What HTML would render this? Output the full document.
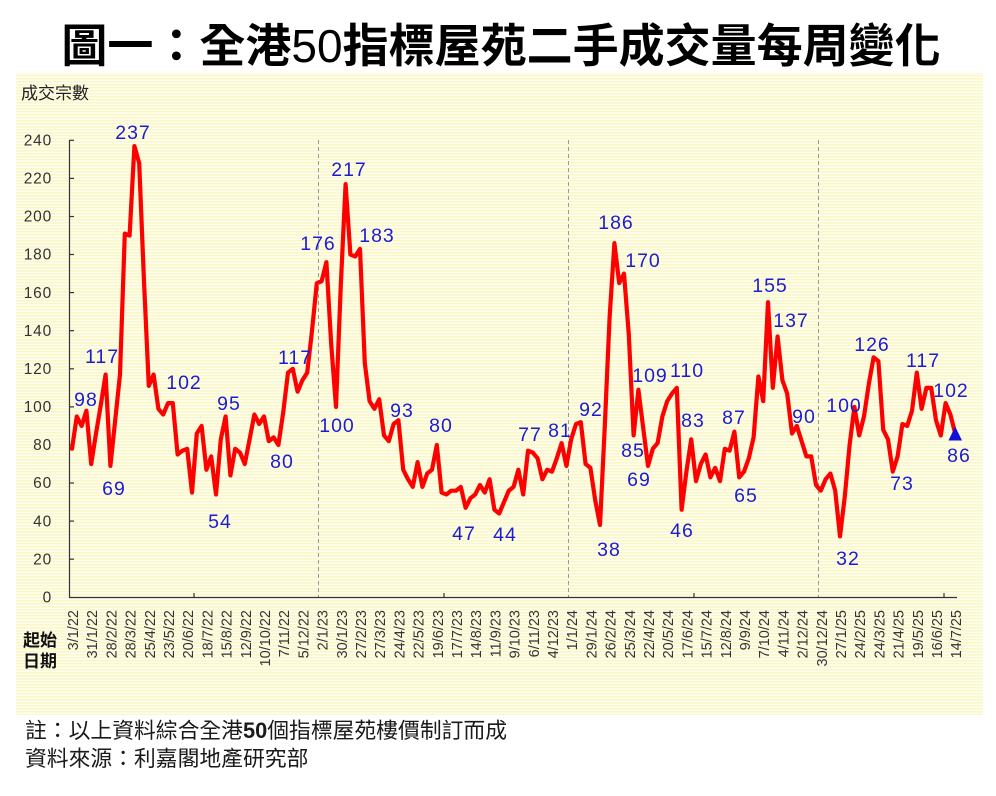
<!DOCTYPE html>
<html>
<head>
<meta charset="utf-8">
<style>
  html,body{margin:0;padding:0;background:#ffffff;}
  body{width:996px;height:796px;overflow:hidden;}
  svg{display:block;}
  .cjk{font-family:"Liberation Sans","Noto Sans CJK TC","Noto Sans CJK SC",sans-serif;}
  .lbl{font-family:"Liberation Sans",sans-serif;font-size:19.5px;fill:#1c1cd2;text-anchor:middle;letter-spacing:1px;}
  .yt{font-family:"Liberation Sans",sans-serif;font-size:15.5px;fill:#333;text-anchor:end;letter-spacing:0.8px;}
  .xt{font-family:"Liberation Sans",sans-serif;font-size:14.5px;fill:#333;text-anchor:end;dominant-baseline:central;}
</style>
</head>
<body>
<svg width="996" height="796" viewBox="0 0 996 796" xmlns="http://www.w3.org/2000/svg">
  <defs>
    <pattern id="stripes" width="6" height="3" patternUnits="userSpaceOnUse">
      <rect width="6" height="3" fill="#fefef0"/>
      <rect width="6" height="1.5" fill="#f9f7c6"/>
    </pattern>
  </defs>
  <rect x="0" y="0" width="996" height="796" fill="#ffffff"/>
  <!-- Title -->
  <text class="cjk" x="501" y="62" text-anchor="middle" font-size="46" font-weight="bold" fill="#000">圖一：全港<tspan font-weight="normal">50</tspan>指標屋苑二手成交量每周變化</text>

  <!-- chart background -->
  <rect x="16" y="73" width="967" height="642" fill="url(#stripes)"/>

  <!-- y axis title -->
  <text class="cjk" x="21" y="99" font-size="17" fill="#222">成交宗數</text>

  <!-- dashed year separators -->
  <g stroke="#9a9a9a" stroke-width="1" stroke-dasharray="4,3">
    <line x1="318.5" y1="140" x2="318.5" y2="597"/>
    <line x1="568.5" y1="140" x2="568.5" y2="597"/>
    <line x1="818.5" y1="140" x2="818.5" y2="597"/>
  </g>

  <!-- axes -->
  <g stroke="#333" stroke-width="1.2" fill="none">
    <line x1="69.5" y1="140" x2="69.5" y2="597.5"/>
    <line x1="69" y1="597.5" x2="957" y2="597.5"/>
    <line x1="69.5" y1="140.3" x2="74" y2="140.3"/>
    <line x1="69.5" y1="178.4" x2="74" y2="178.4"/>
    <line x1="69.5" y1="216.5" x2="74" y2="216.5"/>
    <line x1="69.5" y1="254.5" x2="74" y2="254.5"/>
    <line x1="69.5" y1="292.6" x2="74" y2="292.6"/>
    <line x1="69.5" y1="330.7" x2="74" y2="330.7"/>
    <line x1="69.5" y1="368.8" x2="74" y2="368.8"/>
    <line x1="69.5" y1="406.9" x2="74" y2="406.9"/>
    <line x1="69.5" y1="445.0" x2="74" y2="445.0"/>
    <line x1="69.5" y1="483.0" x2="74" y2="483.0"/>
    <line x1="69.5" y1="521.1" x2="74" y2="521.1"/>
    <line x1="69.5" y1="559.2" x2="74" y2="559.2"/>
    <line x1="194" y1="597" x2="194" y2="593"/>
    <line x1="444" y1="597" x2="444" y2="593"/>
    <line x1="694" y1="597" x2="694" y2="593"/>
    <line x1="944" y1="597" x2="944" y2="593"/>
  </g>

  <!-- y tick labels -->
  <g class="yt">
    <text x="52" y="145.5">240</text>
    <text x="52" y="183.6">220</text>
    <text x="52" y="221.7">200</text>
    <text x="52" y="259.7">180</text>
    <text x="52" y="297.8">160</text>
    <text x="52" y="335.9">140</text>
    <text x="52" y="374.0">120</text>
    <text x="52" y="412.1">100</text>
    <text x="52" y="450.2">80</text>
    <text x="52" y="488.2">60</text>
    <text x="52" y="526.3">40</text>
    <text x="52" y="564.4">20</text>
    <text x="52" y="602.5">0</text>
  </g>

  <!-- x tick labels -->
  <g class="xt">
    <text transform="translate(74,610) rotate(-90)">3/1/22</text>
    <text transform="translate(93.2,610) rotate(-90)">31/1/22</text>
    <text transform="translate(112.4,610) rotate(-90)">28/2/22</text>
    <text transform="translate(131.6,610) rotate(-90)">28/3/22</text>
    <text transform="translate(150.8,610) rotate(-90)">25/4/22</text>
    <text transform="translate(170,610) rotate(-90)">23/5/22</text>
    <text transform="translate(189.2,610) rotate(-90)">20/6/22</text>
    <text transform="translate(208.4,610) rotate(-90)">18/7/22</text>
    <text transform="translate(227.6,610) rotate(-90)">15/8/22</text>
    <text transform="translate(246.8,610) rotate(-90)">12/9/22</text>
    <text transform="translate(266,610) rotate(-90)">10/10/22</text>
    <text transform="translate(285.2,610) rotate(-90)">7/11/22</text>
    <text transform="translate(304.4,610) rotate(-90)">5/12/22</text>
    <text transform="translate(323.6,610) rotate(-90)">2/1/23</text>
    <text transform="translate(342.8,610) rotate(-90)">30/1/23</text>
    <text transform="translate(362,610) rotate(-90)">27/2/23</text>
    <text transform="translate(381.2,610) rotate(-90)">27/3/23</text>
    <text transform="translate(400.4,610) rotate(-90)">24/4/23</text>
    <text transform="translate(419.6,610) rotate(-90)">22/5/23</text>
    <text transform="translate(438.8,610) rotate(-90)">19/6/23</text>
    <text transform="translate(458,610) rotate(-90)">17/7/23</text>
    <text transform="translate(477.2,610) rotate(-90)">14/8/23</text>
    <text transform="translate(496.4,610) rotate(-90)">11/9/23</text>
    <text transform="translate(515.6,610) rotate(-90)">9/10/23</text>
    <text transform="translate(534.8,610) rotate(-90)">6/11/23</text>
    <text transform="translate(554,610) rotate(-90)">4/12/23</text>
    <text transform="translate(573.2,610) rotate(-90)">1/1/24</text>
    <text transform="translate(592.4,610) rotate(-90)">29/1/24</text>
    <text transform="translate(611.6,610) rotate(-90)">26/2/24</text>
    <text transform="translate(630.8,610) rotate(-90)">25/3/24</text>
    <text transform="translate(650,610) rotate(-90)">22/4/24</text>
    <text transform="translate(669.2,610) rotate(-90)">20/5/24</text>
    <text transform="translate(688.4,610) rotate(-90)">17/6/24</text>
    <text transform="translate(707.6,610) rotate(-90)">15/7/24</text>
    <text transform="translate(726.8,610) rotate(-90)">12/8/24</text>
    <text transform="translate(746,610) rotate(-90)">9/9/24</text>
    <text transform="translate(765.2,610) rotate(-90)">7/10/24</text>
    <text transform="translate(784.4,610) rotate(-90)">4/11/24</text>
    <text transform="translate(803.6,610) rotate(-90)">2/12/24</text>
    <text transform="translate(822.8,610) rotate(-90)">30/12/24</text>
    <text transform="translate(842,610) rotate(-90)">27/1/25</text>
    <text transform="translate(861.2,610) rotate(-90)">24/2/25</text>
    <text transform="translate(880.4,610) rotate(-90)">24/3/25</text>
    <text transform="translate(899.6,610) rotate(-90)">21/4/25</text>
    <text transform="translate(918.8,610) rotate(-90)">19/5/25</text>
    <text transform="translate(938,610) rotate(-90)">16/6/25</text>
    <text transform="translate(957.2,610) rotate(-90)">14/7/25</text>
  </g>

  <!-- x axis title -->
  <text class="cjk" x="23" y="646" font-size="17" font-weight="bold" fill="#111">起始</text>
  <text class="cjk" x="23" y="667" font-size="17" font-weight="bold" fill="#111">日期</text>

  <!-- data line -->
  <g transform="translate(72,597.3) scale(4.8,-1.904)">
    <polyline fill="none" stroke="#ff0000" stroke-width="4.2" stroke-linejoin="round" stroke-linecap="round" vector-effect="non-scaling-stroke"
      points="0,78 1,95 2,90 3,98 4,70 5,86 6,101 7,117 8,69 9,93 10,117 11,191 12,190 13,237 14,228 15,166 16,111 17,117 18,99 19,96 20,102 21,102 22,75 23,77 24,78 25,55 26,86 27,90 28,67 29,74 30,54 31,83 32,95 33,64 34,78 35,76 36,70 37,83 38,96 39,91 40,95 41,82 42,84 43,80 44,97 45,118 46,120 47,108 48,114 49,118 50,140 51,165 52,166 53,176 54,133 55,100 56,164 57,217 58,180 59,179 60,183 61,123 62,103 63,99 64,104 65,85 66,82 67,91 68,93 69,67 70,62 71,58 72,71 73,58 74,65 75,67 76,80 77,55 78,54 79,56 80,56 81,58 82,47 83,52 84,54 85,59 86,55 87,62 88,46 89,44 90,50 91,56 92,58 93,67 94,54 95,77 96,76 97,73 98,62 99,67 100,66 101,73 102,81 103,69 104,83 105,91 106,92 107,70 108,68 109,51 110,38 111,90 112,147 113,186 114,165 115,170 116,138 117,85 118,109 119,89 120,69 121,78 122,81 123,95 124,103 125,107 126,110 127,46 128,66 129,83 130,61 131,70 132,75 133,63 134,68 135,61 136,78 137,77 138,87 139,63 140,66 141,73 142,84 143,116 144,103 145,155 146,110 147,137 148,114 149,107 150,86 151,90 152,82 153,74 154,74 155,59 156,56 157,62 158,65 159,56 160,32 161,53 162,80 163,100 164,85 165,95 166,112 167,126 168,124 169,88 170,83 171,66 172,74 173,91 174,90 175,98 176,118 177,99 178,110 179,110 180,93 181,85 182,102 183,96 184,86"/>
  </g>

  <!-- end marker -->
  <polygon points="948.5,440.5 962,440.5 955.2,426.5" fill="#1010d8"/>

  <!-- data labels -->
  <g class="lbl">
    <text x="133" y="139">237</text>
    <text x="86" y="406">98</text>
    <text x="102" y="363">117</text>
    <text x="114" y="495">69</text>
    <text x="184" y="389">102</text>
    <text x="229" y="410">95</text>
    <text x="220" y="528">54</text>
    <text x="282" y="468">80</text>
    <text x="295" y="364">117</text>
    <text x="318" y="250">176</text>
    <text x="349" y="176">217</text>
    <text x="377" y="242">183</text>
    <text x="337" y="432">100</text>
    <text x="402" y="417">93</text>
    <text x="441" y="432">80</text>
    <text x="464" y="540">47</text>
    <text x="505" y="541">44</text>
    <text x="530" y="441">77</text>
    <text x="560" y="437">81</text>
    <text x="591" y="416">92</text>
    <text x="609" y="556">38</text>
    <text x="616" y="229">186</text>
    <text x="643" y="267">170</text>
    <text x="633" y="457">85</text>
    <text x="639" y="486">69</text>
    <text x="650" y="382">109</text>
    <text x="687" y="377">110</text>
    <text x="693" y="427">83</text>
    <text x="682" y="537">46</text>
    <text x="734" y="424">87</text>
    <text x="746" y="502">65</text>
    <text x="770" y="292">155</text>
    <text x="791" y="327">137</text>
    <text x="804" y="423">90</text>
    <text x="844" y="412">100</text>
    <text x="848" y="565">32</text>
    <text x="872" y="351">126</text>
    <text x="902" y="490">73</text>
    <text x="923" y="367">117</text>
    <text x="951" y="397">102</text>
    <text x="959" y="462">86</text>
  </g>

  <!-- footer -->
  <text class="cjk" x="25" y="738" font-size="21.8" fill="#1a1a1a">註：以上資料綜合全港<tspan font-weight="bold">50</tspan>個指標屋苑樓價制訂而成</text>
  <text class="cjk" x="25" y="766" font-size="21.8" fill="#1a1a1a">資料來源：利嘉閣地產研究部</text>
</svg>
</body>
</html>
